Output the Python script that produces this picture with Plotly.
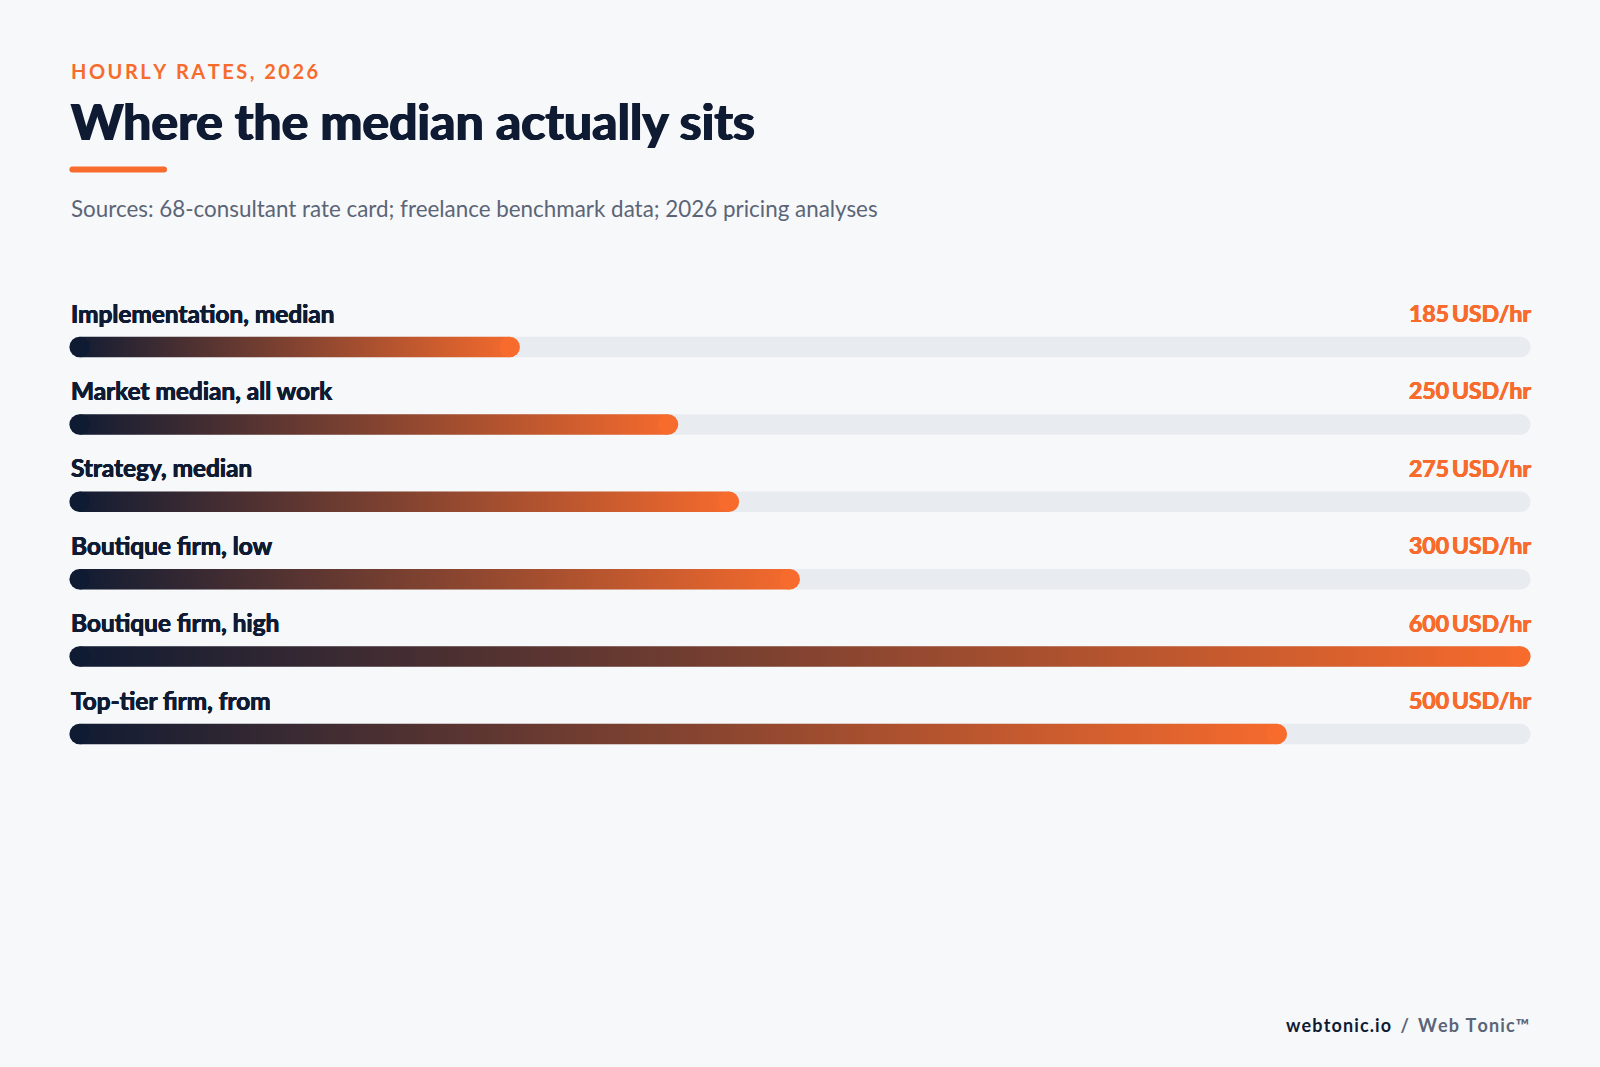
import plotly.graph_objects as go

# Datos
categorias = ["Implementation, median", "Market median, all work", "Strategy, median",
              "Boutique firm, low", "Boutique firm, high", "Top-tier firm, from"]
tarifas = [185, 250, 275, 300, 600, 500]
unidad = "USD/hr"
escala_max = 600

kicker = "HOURLY RATES, 2026"
titulo = "Where the median actually sits"
fuentes = "Sources: 68-consultant rate card; freelance benchmark data; 2026 pricing analyses"

# Estilo
W, H = 1600, 1067
FONDO = "#f7f8fa"
NAVY = "#0f1b33"
NARANJA = "#f76b2d"
PISTA = "#e8ebef"
GRIS = "#5b6577"
FUENTE = "Lato, 'Open Sans', sans-serif"


def grosor(color, d):
    # sombra lateral para engrosar el trazo (no hay Lato Black instalada)
    return f"{d}px 0 0 {color}, -{d}px 0 0 {color}, 0 {d / 2}px 0 {color}"


# geometria en pixeles
IZQ, DER = 69.4, 1530.6
BARRA = 20.5
FILA0, PASO = 347.0, 77.4
x_dom = [IZQ / W, DER / W]
y_top = FILA0 - PASO / 2
y_bot = FILA0 + (len(categorias) - 0.5) * PASO
y_dom = [1 - y_bot / H, 1 - y_top / H]
media = BARRA / 2 / PASO  # media altura en unidades de fila
radio = BARRA / 2 * escala_max / (DER - IZQ)  # radio del extremo en unidades del eje x

fig = go.Figure()

for i, (cat, v) in enumerate(zip(categorias, tarifas)):
    # pista gris
    fig.add_trace(go.Scatter(
        x=[radio, escala_max - radio], y=[i, i], mode="lines+markers",
        line=dict(color=PISTA, width=BARRA),
        marker=dict(color=PISTA, size=BARRA, line=dict(width=0)),
        cliponaxis=False, hoverinfo="skip", showlegend=False))
    # barra con degradado
    x0, x1 = radio, v - radio
    fig.add_trace(go.Scatter(
        x=[x0, x1, x1, x0, x0], y=[i - media, i - media, i + media, i + media, i - media],
        fill="toself", mode="lines", line=dict(width=0),
        fillgradient=dict(type="horizontal", colorscale=[[0, NAVY], [1, NARANJA]],
                          start=0, stop=v),
        cliponaxis=False, hoverinfo="skip", showlegend=False))
    # extremos redondeados
    fig.add_trace(go.Scatter(
        x=[x0, x1], y=[i, i], mode="markers",
        marker=dict(color=[NAVY, NARANJA], size=BARRA, line=dict(width=0)),
        cliponaxis=False, hoverinfo="skip", showlegend=False))

anotaciones = []
for i, (cat, v) in enumerate(zip(categorias, tarifas)):
    anotaciones.append(dict(
        x=IZQ / W - 0.0005, xref="paper", y=i, yref="y", yshift=34, xanchor="left", yanchor="middle",
        text=cat, showarrow=False,
        font=dict(family=FUENTE, size=24.4, color=NAVY, weight=700, shadow=grosor(NAVY, 0.4))))
    anotaciones.append(dict(
        x=DER / W, xref="paper", y=i, yref="y", yshift=34, xshift=2, xanchor="right", yanchor="middle",
        text=f"{v}\u2009{unidad}", showarrow=False,
        font=dict(family=FUENTE, size=23, color=NARANJA, weight=700, shadow=grosor(NARANJA, 0.4))))

espaciado = "\u2009".join(kicker)
firma = "\u200a".join("webtonic.io")
marca = "\u200a".join("Web Tonic™")
anotaciones += [
    dict(x=IZQ / W, y=1 - 70.5 / H, xref="paper", yref="paper", xanchor="left", yanchor="middle",
         text=espaciado, showarrow=False,
         font=dict(family=FUENTE, size=20, color=NARANJA, weight=700)),
    dict(x=IZQ / W - 0.0005, y=1 - 121.5 / H, xref="paper", yref="paper", xanchor="left", yanchor="middle",
         text=titulo, showarrow=False,
         font=dict(family=FUENTE, size=50, color=NAVY, weight=700, shadow=grosor(NAVY, 0.9))),
    dict(x=IZQ / W, y=1 - 209 / H, xref="paper", yref="paper", xanchor="left", yanchor="middle",
         text=fuentes, showarrow=False,
         font=dict(family=FUENTE, size=22.4, color=GRIS)),
    dict(x=DER / W, y=1 - 1024.5 / H, xref="paper", yref="paper", xanchor="right", yanchor="middle",
         text="<b>%s</b>  <span style='color:%s'><b>/</b>  <b>%s</b></span>" % (firma, GRIS, marca),
         showarrow=False, font=dict(family=FUENTE, size=18, color=NAVY)),
]


# subrayado naranja con extremos redondeados
def rect_redondeado(x0, y0, x1, y1, r):
    rx, ry = r / W, r / H
    return (f"M {x0 + rx},{y0} L {x1 - rx},{y0} Q {x1},{y0} {x1},{y0 + ry} "
            f"L {x1},{y1 - ry} Q {x1},{y1} {x1 - rx},{y1} L {x0 + rx},{y1} "
            f"Q {x0},{y1} {x0},{y1 - ry} L {x0},{y0 + ry} Q {x0},{y0} {x0 + rx},{y0} Z")


forma = dict(type="path", xref="paper", yref="paper", line=dict(width=0), fillcolor=NARANJA,
             path=rect_redondeado(IZQ / W, 1 - 172.5 / H, 167 / W, 1 - 166.5 / H, 3))

fig.update_layout(
    width=W, height=H, margin=dict(l=0, r=0, t=0, b=0),
    paper_bgcolor=FONDO, plot_bgcolor=FONDO,
    xaxis=dict(domain=x_dom, range=[0, escala_max], visible=False, fixedrange=True),
    yaxis=dict(domain=y_dom, range=[len(categorias) - 0.5, -0.5], visible=False, fixedrange=True),
    annotations=anotaciones, shapes=[forma], showlegend=False,
)

# quitar el margen del body para que el lienzo llene la ventana
ajuste = "document.body.style.margin='0';document.body.style.background='%s';" % FONDO
fig.write_html("out.html", config={"displayModeBar": False}, post_script=ajuste)
